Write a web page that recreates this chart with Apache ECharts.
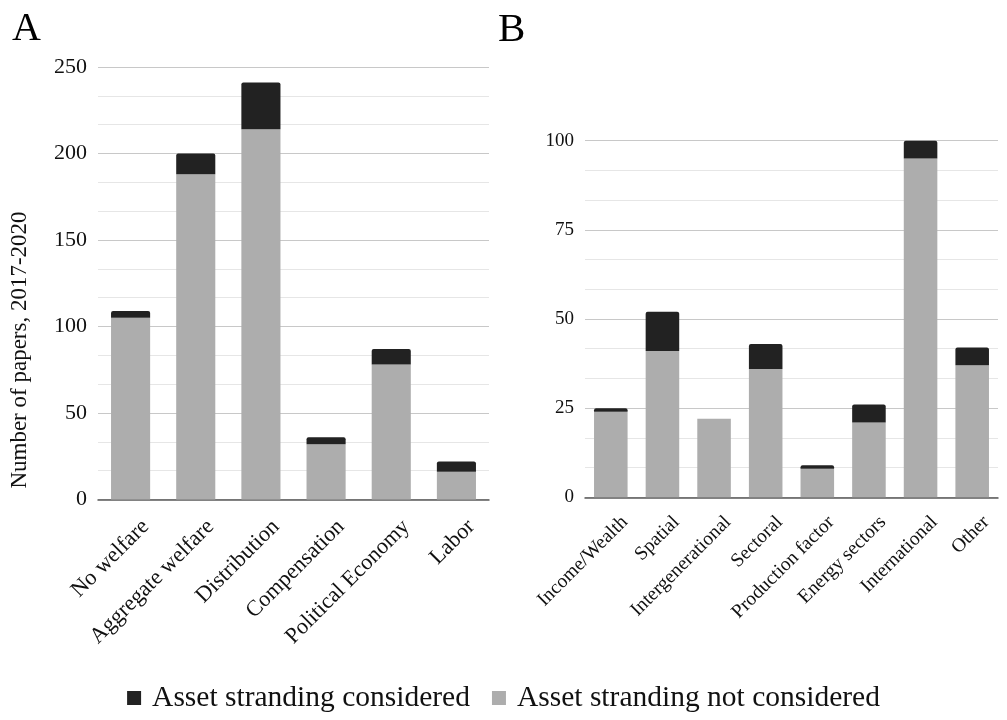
<!DOCTYPE html>
<html>
<head>
<meta charset="utf-8">
<script src="https://cdn.jsdelivr.net/npm/echarts@6/dist/echarts.min.js"></script>
<style>html,body{margin:0;padding:0;background:#fff;}#c{width:1007px;height:720px;}</style>
</head>
<body>
<div id="c"></div>
<script>
// Panel A data
var catsA = ['No welfare', 'Aggregate welfare', 'Distribution', 'Compensation', 'Political Economy', 'Labor'];
var notConsA = [105, 188, 214, 32, 78, 16];
var consA = [4, 12, 27, 4, 9, 6];
// Panel B data
var catsB = ['Income/Wealth', 'Spatial', 'Intergenerational', 'Sectoral', 'Production factor', 'Energy sectors', 'International', 'Other'];
var notConsB = [24, 41, 22, 36, 8, 21, 95, 37];
var consB = [1, 11, 0, 7, 1, 5, 5, 5];
var seriesNames = ['Asset stranding considered', 'Asset stranding not considered'];

var DARK = '#222222', GRAY = '#adadad';
var FONT = 'Liberation Serif';

function yAx(gi, max, interval, fs) {
  return {
    type: 'value', gridIndex: gi, min: 0, max: max, interval: interval,
    axisLine: {show: false}, axisTick: {show: false},
    axisLabel: {fontFamily: FONT, fontSize: fs, color: '#111', margin: 11},
    splitLine: {show: true, lineStyle: {color: '#c8c8c8', width: 1}},
    minorTick: {show: false, splitNumber: 3},
    minorSplitLine: {show: true, lineStyle: {color: '#e6e6e6', width: 1}}
  };
}
function xAx(gi, cats, fs, margin) {
  return {
    type: 'category', gridIndex: gi, data: cats,
    axisLine: {show: true, lineStyle: {color: '#5a5a5a', width: 1.5}},
    axisTick: {show: false},
    axisLabel: {interval: 0, rotate: 45, align: 'right', verticalAlign: 'top', margin: margin,
      lineHeight: fs + 20,
      fontFamily: FONT, fontSize: fs, color: '#111'}
  };
}

var chart = echarts.init(document.getElementById('c'));
chart.setOption({
  animation: false,
  backgroundColor: '#fff',
  textStyle: {fontFamily: FONT},
  grid: [
    {left: 98, right: 518, top: 67, bottom: 220.5},
    {left: 585, right: 9, top: 140.7, bottom: 222.7}
  ],
  xAxis: [xAx(0, catsA, 22.3, 9), xAx(1, catsB, 19.5, 8)],
  yAxis: [yAx(0, 250, 50, 22), yAx(1, 100, 25, 19)],
  legend: {
    data: seriesNames, bottom: 2, left: 'center', icon: 'rect', itemWidth: 14, itemHeight: 14,
    itemGap: 22, textStyle: {fontFamily: FONT, fontSize: 29.5, color: '#111', padding: [0, 0, 0, 6]}
  },
  graphic: [
    {type: 'text', left: 12, top: 9, style: {text: 'A', fontFamily: FONT, fontSize: 40, fill: '#000'}},
    {type: 'text', left: 498, top: 10, style: {text: 'B', fontFamily: FONT, fontSize: 41, fill: '#000'}},
    {type: 'text', x: 20, y: 350, rotation: Math.PI / 2,
      style: {text: 'Number of papers, 2017-2020', fontFamily: FONT, fontSize: 23, fill: '#111', align: 'center', verticalAlign: 'middle'}}
  ],
  series: [
    {name: seriesNames[1], type: 'bar', stack: 'a', xAxisIndex: 0, yAxisIndex: 0, data: notConsA,
      barCategoryGap: '40%', itemStyle: {color: GRAY}},
    {name: seriesNames[0], type: 'bar', stack: 'a', xAxisIndex: 0, yAxisIndex: 0, data: consA,
      barCategoryGap: '40%', itemStyle: {color: DARK, borderRadius: [2, 2, 0, 0]}},
    {name: seriesNames[1], type: 'bar', stack: 'b', xAxisIndex: 1, yAxisIndex: 1, data: notConsB,
      barCategoryGap: '35%', itemStyle: {color: GRAY}},
    {name: seriesNames[0], type: 'bar', stack: 'b', xAxisIndex: 1, yAxisIndex: 1, data: consB,
      barCategoryGap: '35%', itemStyle: {color: DARK, borderRadius: [2, 2, 0, 0]}}
  ]
});
</script>
</body>
</html>
